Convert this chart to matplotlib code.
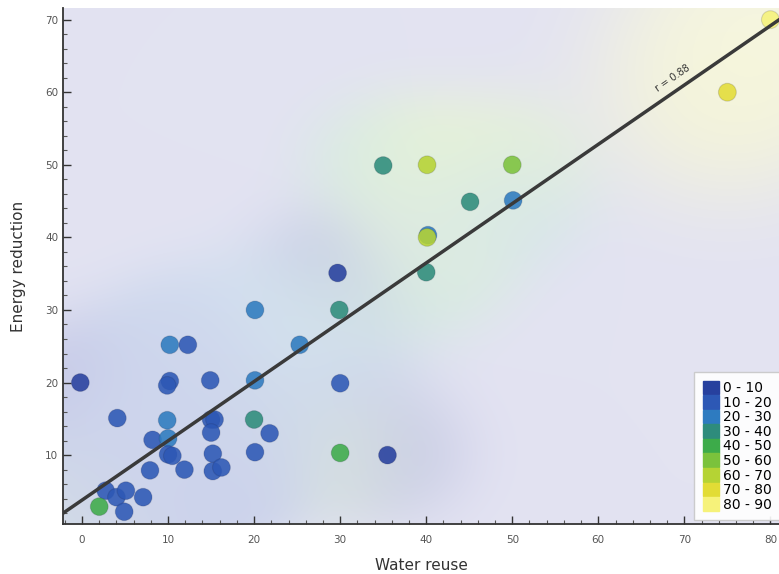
import numpy as np
import matplotlib
matplotlib.use("Agg")
import matplotlib.pyplot as plt
from matplotlib.colors import LinearSegmentedColormap, to_rgb
from matplotlib.patches import Patch
from matplotlib.ticker import MultipleLocator

# data
water = [-0.2, 4.1, 10.2, 9.9, 14.9, 20.1, 30.0, 9.9, 15.0, 15.4, 20.0, 21.8,
         15.0, 8.2, 10.0, 10.0, 10.5, 15.2, 20.1, 30.0, 35.5, 7.9, 11.9, 15.2,
         16.2, 2.75, 4.0, 5.1, 7.1, 4.9, 2.0, 10.2, 12.3, 25.3, 20.1, 29.9,
         29.7, 40.0, 40.2, 40.1, 45.1, 50.1, 35.0, 40.1, 50.0, 75.0, 80.0]
energy = [20.0, 15.1, 20.2, 19.6, 20.3, 20.3, 19.9, 14.8, 14.9, 14.9, 14.9, 13.0,
          13.1, 12.1, 12.3, 10.1, 9.9, 10.2, 10.4, 10.3, 10.0, 7.9, 8.0, 7.8,
          8.3, 5.1, 4.2, 5.1, 4.2, 2.2, 2.9, 25.2, 25.2, 25.2, 30.0, 30.0,
          35.1, 35.2, 40.3, 40.0, 44.9, 45.1, 49.9, 50.0, 50.0, 60.0, 70.0]
score = [5, 15, 15, 15, 15, 25, 15, 25, 15, 15, 35, 15,
         15, 15, 25, 15, 15, 15, 15, 45, 5, 15, 15, 15,
         15, 15, 15, 15, 15, 15, 45, 25, 15, 25, 25, 35,
         5, 35, 25, 65, 35, 25, 35, 65, 55, 75, 85]

class_labels = ["0 - 10", "10 - 20", "20 - 30", "30 - 40", "40 - 50",
                "50 - 60", "60 - 70", "70 - 80", "80 - 90"]
class_colors = ["#27409e", "#2d58b5", "#2e7bc0", "#2e8c7c", "#3dab4a",
                "#7bc23c", "#b5d334", "#e2dc35", "#f6f27a"]
# washed-out versions used for the background surface
surface_colors = ["#c4c6e6", "#ccd2ec", "#d4e2f0", "#d4ebe2", "#e0f0d8",
                  "#e8f4d4", "#f0f6d2", "#f6f6d6", "#f8f8e0"]

fit_intercept = 3.8
fit_slope = 0.817
fit_label = "r = 0.88"

water = np.array(water)
energy = np.array(energy)
score = np.array(score)

cmap = LinearSegmentedColormap.from_list("cls", list(zip(np.linspace(0, 1, 9), class_colors)))

fig = plt.figure(figsize=(7.79, 5.74), dpi=100)
ax = fig.add_axes([0.081, 0.087, 0.919, 0.899])
xlim = (-2.2, 81.0)
ylim = (0.5, 71.6)
ax.set_xlim(xlim)
ax.set_ylim(ylim)

# smooth background surface from the point classes
cls = (score // 10).astype(int)
pts_surf = np.array([to_rgb(surface_colors[k]) for k in cls])
gx = np.linspace(xlim[0], xlim[1], 300)
gy = np.linspace(ylim[0], ylim[1], 260)
GX, GY = np.meshgrid(gx, gy)
sig = np.where(score > 70, 9.0, 5.5)
K = np.exp(-((GX[..., None] - water) ** 2 + (GY[..., None] - energy) ** 2) / (2 * sig ** 2))
ksum = K.sum(axis=-1)
mix = (K @ pts_surf) / (ksum[..., None] + 1e-9)
a = (1 - np.exp(-ksum * 1.5))[..., None]
base = np.array(to_rgb("#e3e3f2"))
img = base * (1 - a) + mix * a
ax.imshow(img, extent=[xlim[0], xlim[1], ylim[0], ylim[1]], origin="lower",
          aspect="auto", zorder=0, interpolation="bilinear")

face = cmap((score - 5) / 80)
face[:, 3] = 0.88
ax.scatter(water, energy, c=face, s=165, edgecolors=(0.1, 0.1, 0.2, 0.15),
           linewidths=0.8, zorder=3)

lx = np.array(xlim)
ax.plot(lx, fit_intercept + fit_slope * lx, color="#3a3a3a", lw=2.5, zorder=4)

tx = 69.0
ty = fit_intercept + fit_slope * tx
p1 = ax.transData.transform((0, fit_intercept))
p2 = ax.transData.transform((80, fit_intercept + fit_slope * 80))
ang = np.degrees(np.arctan2(p2[1] - p1[1], p2[0] - p1[0]))
ax.text(tx, ty + 1.2, fit_label, rotation=ang, rotation_mode="anchor",
        ha="center", va="bottom", fontsize=7, color="#333333", zorder=5)

for s in ["top", "right"]:
    ax.spines[s].set_visible(False)
for s in ["left", "bottom"]:
    ax.spines[s].set_color("#333333")
    ax.spines[s].set_linewidth(1.3)

ax.xaxis.set_major_locator(MultipleLocator(10))
ax.xaxis.set_minor_locator(MultipleLocator(2))
ax.yaxis.set_major_locator(MultipleLocator(10))
ax.yaxis.set_minor_locator(MultipleLocator(2))
ax.tick_params(which="major", direction="in", length=6, width=1, colors="#333333",
               labelsize=7.5, labelcolor="#555555")
ax.tick_params(which="minor", direction="in", length=3, width=0.8, colors="#555555")
ax.tick_params(axis="x", pad=8)

ax.set_xlabel("Water reuse", fontsize=11, color="#333333", labelpad=9)
ax.set_ylabel("Energy reduction", fontsize=11, color="#333333", labelpad=14)

handles = [Patch(facecolor=c, edgecolor=c) for c in class_colors]
leg = ax.legend(handles, class_labels, loc="lower right", bbox_to_anchor=(1.012, -0.006),
                fontsize=10, handlelength=1.15, handleheight=1.15, labelspacing=0,
                handletextpad=0.35, borderpad=0.6, fancybox=False, framealpha=0.9,
                edgecolor="#c8c8c8")
leg.set_zorder(6)

fig.savefig("out.png", dpi=100)
